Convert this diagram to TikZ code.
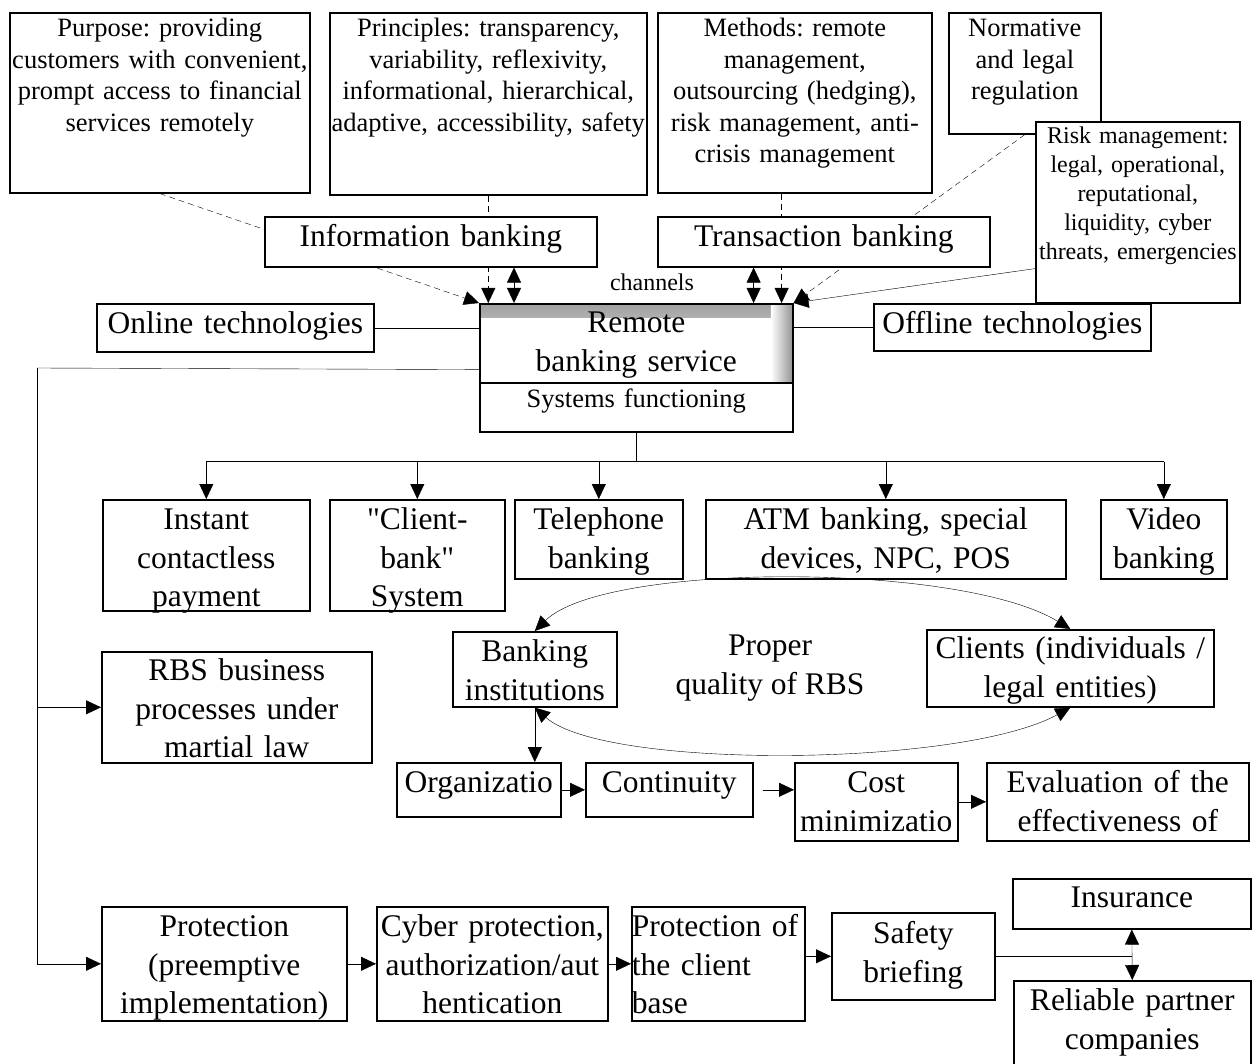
\documentclass[tikz,border=0pt]{standalone}
\usepackage{fontspec}
\setmainfont{Liberation Serif}
\newfontfamily\straight{Liberation Serif}
\usetikzlibrary{arrows.meta}
\pgfdeclarelayer{background}
\pgfsetlayers{background,main}
\frenchspacing
\newcommand\fbig{\fontsize{31.5}{38.5}\selectfont}
\newcommand\fmed{\fontsize{26.5}{31.5}\selectfont}
\newcommand\fsml{\fontsize{24}{29}\selectfont}
\tikzset{
  box/.style n args={3}{draw, fill=white, anchor=north west, inner sep=0pt,
    align=center, text width=#1, text height=#3, text depth={#2-#3}},
  bigtxt/.style={font=\fbig},
  medtxt/.style={font=\fmed},
  smltxt/.style={font=\fsml},
  arr/.style={-{Triangle[length=15pt,width=14pt]}},
  dbl/.style={{Triangle[length=15pt,width=14pt]}-{Triangle[length=15pt,width=14pt]}},
  dsh/.style={dash pattern=on 6pt off 4pt},
  rbsshade/.style={path picture={
    \shade[top color=gray!75, bottom color=white] (path picture bounding box.north west) rectangle ([yshift=-14pt]path picture bounding box.north east);
    \shade[left color=white, right color=gray!85] ([xshift=-22pt]path picture bounding box.north east) rectangle (path picture bounding box.south east);}}
}
\begin{document}
\begin{tikzpicture}[x=1pt, y=-1pt, line width=1.6pt]
  \useasboundingbox (0,0) rectangle (1257,1064);

  % top row
  \node[box={300pt}{180pt}{24pt}, medtxt] (purpose) at (9,12) {Purpose: providing\\customers with convenient,\\prompt access to financial\\services remotely};
  \node[box={317pt}{182pt}{24pt}, medtxt] (principles) at (329,12) {Principles: transparency,\\variability, reflexivity,\\informational, hierarchical,\\adaptive, accessibility, safety};
  \node[box={274pt}{180pt}{24pt}, medtxt] (methods) at (657,12) {Methods: remote\\management,\\outsourcing (hedging),\\risk management, anti-\\crisis management};
  \node[box={152pt}{121pt}{24pt}, medtxt] (normative) at (948,12) {Normative\\and legal\\regulation};
  \node[box={204pt}{181pt}{21.5pt}, smltxt] (risk) at (1035,121) {Risk management:\\legal, operational,\\reputational,\\liquidity, cyber\\threats, emergencies};

  \node[box={332pt}{50pt}{30pt}, bigtxt] (info) at (264,216) {Information banking};
  \node[box={332pt}{50pt}{30pt}, bigtxt] (trans) at (657,216) {Transaction banking};
  \node[smltxt] (chan) at (652,282) {channels};

  % remote banking service
  \node[box={277pt}{48pt}{30pt}, bigtxt] (online) at (96,303) {Online technologies};
  \node[box={277pt}{47pt}{30pt}, bigtxt] (offline) at (873,303) {Offline technologies};
  \node[box={313pt}{79pt}{29pt}, bigtxt, rbsshade] (rbs) at (479,303) {Remote\\banking service};
  \node[box={313pt}{49pt}{24.5pt}, medtxt] (sysf) at (479,382) {Systems functioning};

  % systems
  \node[box={207pt}{111pt}{30pt}, bigtxt] (inst) at (102,499) {Instant\\contactless\\payment};
  \node[box={175pt}{111pt}{30pt}, bigtxt] (client) at (329,499) {{\straight"}Client-\\bank{\straight"}\\System};
  \node[box={168pt}{79pt}{30pt}, bigtxt] (tel) at (514,499) {Telephone\\banking};
  \node[box={360pt}{79pt}{30pt}, bigtxt] (atm) at (705,499) {ATM banking, special\\devices, NPC, POS};
  \node[box={126pt}{79pt}{30pt}, bigtxt] (video) at (1100,499) {Video\\banking};

  % quality
  \node[box={164pt}{75pt}{30pt}, bigtxt] (bank) at (452,631) {Banking\\institutions};
  \node[bigtxt, align=center] (quality) at (770,668) {Proper\\quality of RBS};
  \node[box={287pt}{77pt}{29pt}, bigtxt] (clients) at (926,629) {Clients (individuals /\\legal entities)};
  \node[box={270pt}{111pt}{29pt}, bigtxt] (proc) at (101,651) {RBS business\\processes under\\martial law};
  \node[box={164pt}{54pt}{30pt}, bigtxt] (org) at (396,762) {Organizatio};
  \node[box={167pt}{54pt}{30pt}, bigtxt] (cont) at (585,762) {Continuity};
  \node[box={163pt}{78pt}{30pt}, bigtxt] (cost) at (794,762) {Cost\\minimizatio};
  \node[box={262pt}{78pt}{30pt}, bigtxt] (eval) at (986,762) {Evaluation of the\\effectiveness of};

  % protection
  \node[box={245pt}{114pt}{30pt}, bigtxt] (prot) at (101,906) {Protection\\(preemptive\\implementation)};
  \node[box={231pt}{114pt}{30pt}, bigtxt] (cyber) at (376,906) {Cyber protection,\\authorization/aut\\hentication};
  \node[box={173pt}{114pt}{30pt}, bigtxt, align=left] (pcb) at (631,906) {Protection of\\the client\\base};
  \node[box={163pt}{87pt}{31pt}, bigtxt] (safety) at (831,912) {Safety\\briefing};
  \node[box={238pt}{50pt}{29pt}, bigtxt] (ins) at (1012,878) {Insurance};
  \node[box={237pt}{100pt}{30pt}, bigtxt] (rel) at (1013,980) {Reliable partner\\companies};

  \coordinate (ibi) at ([xshift=35pt]rbs.north west);
  \coordinate (tbi) at ([xshift=-40pt]rbs.north east);
  \coordinate (tdash) at ([xshift=-12pt]rbs.north east);
  \coordinate (spine) at (37,368);
  \coordinate (bus) at ([yshift=-29pt]sysf.south);

  % dashed links run behind the banking boxes
  \begin{pgfonlayer}{background}
    \draw[dsh, arr] (purpose.south) -- (rbs.north west);
    \draw[dsh, arr] (principles.south) -- (principles.south |- rbs.north);
    \draw[dsh, arr] (tdash |- methods.south) -- (tdash);
    \draw[dsh, arr] (normative.south) -- (rbs.north east);
  \end{pgfonlayer}
  \draw[arr] ([yshift=35pt]risk.south west) -- (rbs.north east);
  \draw[dbl] (ibi |- info.south) -- (ibi);
  \draw[dbl] (tbi |- trans.south) -- (tbi);

  \draw (online.east) -- (online.east -| rbs.west);
  \draw (offline.west) -- (offline.west -| rbs.east);

  \draw ([yshift=14pt]rbs.south west) -- (spine);
  \draw (spine) -- (spine |- prot.west);
  \draw[arr] (spine |- prot.west) -- (prot.west);
  \draw[arr] (spine |- proc.west) -- (proc.west);

  \draw (sysf.south) -- (bus);
  \draw (bus -| inst.north) -- (bus -| video.north);
  \foreach \n in {inst, client, tel, atm, video}
    \draw[arr] (bus -| \n.north) -- (\n.north);

  \draw[dbl] (bank.north) .. controls +(70,-69) and +(-110,-67) .. (clients.north);
  \draw[dbl] (bank.south) .. controls +(70,62) and +(-110,60) .. (clients.south);
  \draw[arr] (bank.south) -- (bank.south |- org.north);
  \draw[arr] (org.east) -- (org.east -| cont.west);
  \draw[arr] ([xshift=9pt]cont.east) -- (cont.east -| cost.west);
  \draw[arr] (cost.east) -- (cost.east -| eval.west);

  \draw[arr] (prot.east) -- (prot.east -| cyber.west);
  \draw[arr] (cyber.east) -- (cyber.east -| pcb.west);
  \draw[arr] (pcb.east |- safety.west) -- (safety.west);
  \draw (safety.east) -- (safety.east -| ins.south);
  \draw[dbl] (ins.south) -- (rel.north);
\end{tikzpicture}
\end{document}
